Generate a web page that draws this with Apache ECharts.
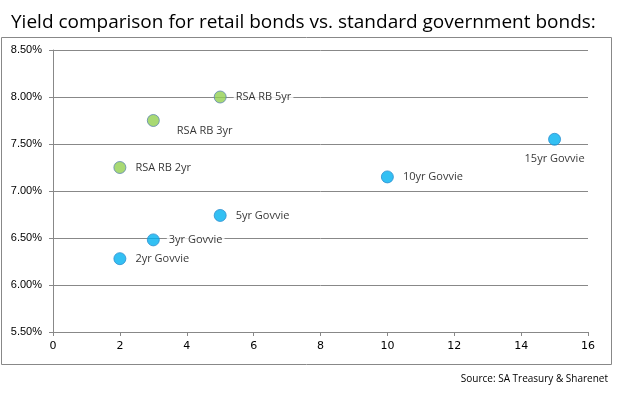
<!DOCTYPE html>
<html><head><meta charset="utf-8">
<script src="https://cdn.jsdelivr.net/npm/echarts@6/dist/echarts.min.js"></script>
<style>html,body{margin:0;padding:0;background:#fff}#c{width:620px;height:395px}</style>
</head><body><div id="c"></div>
<script>
var retailNames = ["RSA RB 2yr", "RSA RB 3yr", "RSA RB 5yr"];
var retailTerm = [2, 3, 5];
var retailYield = [7.25, 7.75, 8.00];
var govNames = ["2yr Govvie", "3yr Govvie", "5yr Govvie", "10yr Govvie", "15yr Govvie"];
var govTerm = [2, 3, 5, 10, 15];
var govYield = [6.28, 6.48, 6.74, 7.15, 7.55];
var yTicks = ["5.50%", "6.00%", "6.50%", "7.00%", "7.50%", "8.00%", "8.50%"];

var labelPlace = {
  "RSA RB 3yr": {position: "right", offset: [10, 10]},
  "15yr Govvie": {position: "bottom", distance: 7}
};
function build(names, xs, ys) {
  return names.map(function (n, i) {
    var p = labelPlace[n] || {position: "right", distance: 7};
    return {name: n, value: [xs[i], ys[i]], label: Object.assign({show: true, formatter: n}, p)};
  });
}
var chart = echarts.init(document.getElementById('c'), null, {renderer: 'canvas'});
var labelStyle = {color: '#000', fontSize: 11, fontFamily: 'Open Sans', backgroundColor: '#fff', padding: [1, 2]};
chart.setOption({
  animation: false,
  title: {text: 'Yield comparison for retail bonds vs. standard government bonds:', left: 6, top: 8,
    textStyle: {fontSize: 19, fontWeight: 'normal', color: '#000', fontFamily: 'Open Sans'}},
  graphic: [
    {type: 'rect', shape: {x: 1.5, y: 37.5, width: 610, height: 327}, style: {fill: 'none', stroke: '#888', lineWidth: 1}, z: -10},
    {type: 'text', right: 12, top: 374, style: {text: 'Source: SA Treasury & Sharenet', fontSize: 10, fill: '#000', fontFamily: 'Open Sans'}}
  ],
  grid: {left: 53, right: 32, top: 50, bottom: 63},
  xAxis: {type: 'value', min: 0, max: 16, interval: 2,
    axisLine: {lineStyle: {color: '#888'}}, axisTick: {show: true, length: 4, lineStyle: {color: '#888'}},
    axisLabel: {color: '#000', fontSize: 11, fontFamily: 'DejaVu Sans', margin: 9},
    splitLine: {show: false}},
  yAxis: {type: 'value', min: 5.5, max: 8.5, interval: 0.5,
    axisLine: {show: true, lineStyle: {color: '#888'}}, axisTick: {show: true, length: 4, lineStyle: {color: '#888'}},
    axisLabel: {color: '#000', fontSize: 11, fontFamily: 'Liberation Sans', margin: 11,
      formatter: function (v) { var i = Math.round((v - 5.5) / 0.5); return yTicks[i]; }},
    splitLine: {show: true, lineStyle: {color: '#888'}}},
  series: [
    {type: 'scatter', name: 'Retail', symbolSize: 12, data: build(retailNames, retailTerm, retailYield),
      itemStyle: {color: '#92D050', borderColor: '#5f86b0', borderWidth: 1}, label: labelStyle},
    {type: 'scatter', name: 'Govvie', symbolSize: 12, data: build(govNames, govTerm, govYield),
      itemStyle: {color: '#00B0F0', borderColor: '#2a8fd0', borderWidth: 1}, label: labelStyle}
  ]
});
</script></body></html>
